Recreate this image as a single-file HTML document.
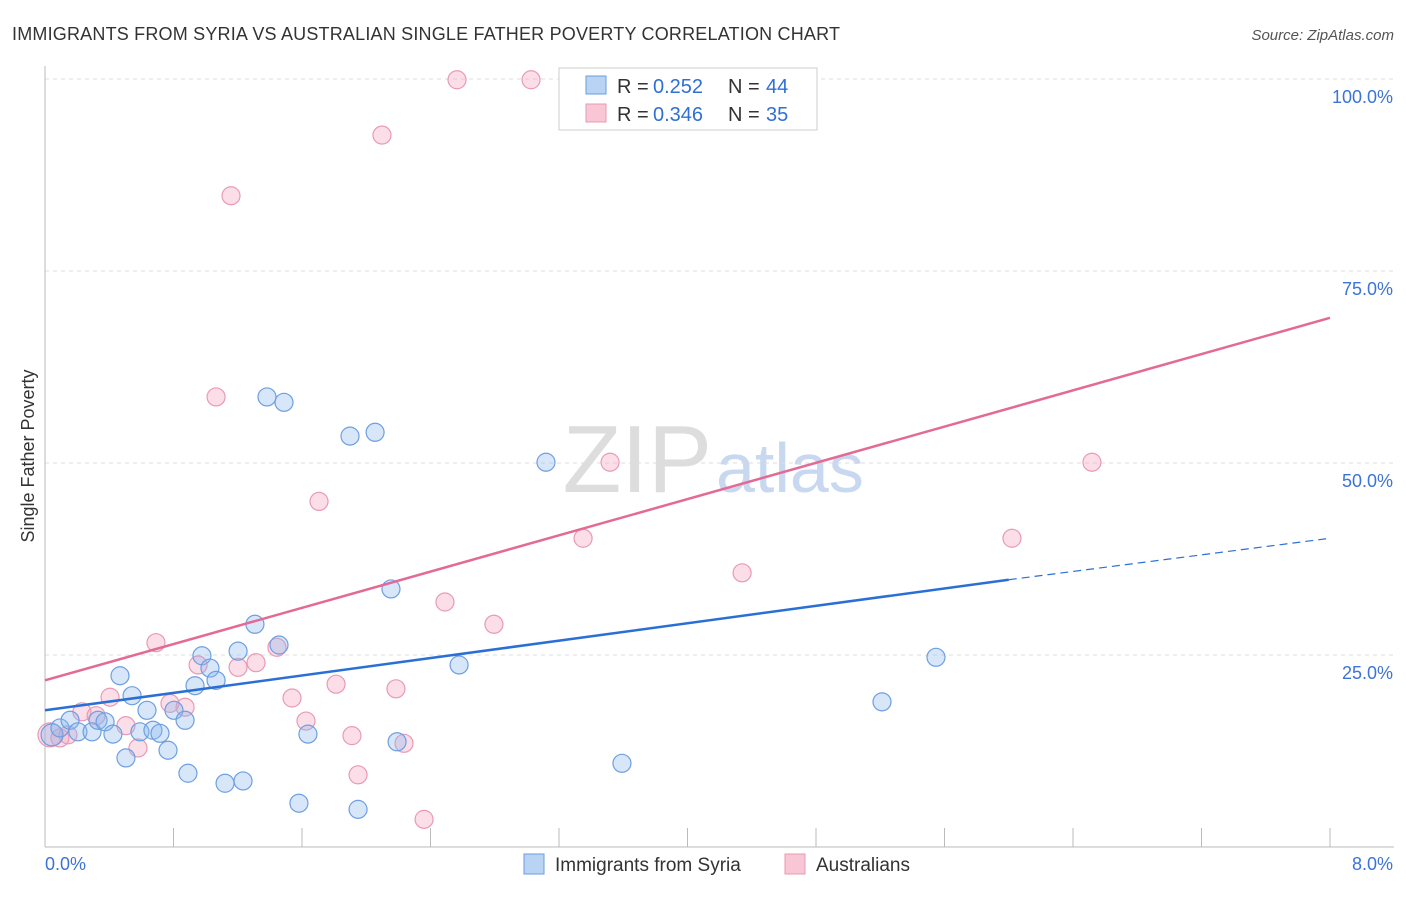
<!DOCTYPE html>
<html><head><meta charset="utf-8"><style>
body{margin:0;background:#fff;font-family:"Liberation Sans",sans-serif;}
svg text{font-family:"Liberation Sans",sans-serif;}
</style></head><body>
<svg id="c" width="1406" height="892" xmlns="http://www.w3.org/2000/svg">
<text x="12" y="40" font-size="18" fill="#333" textLength="828">IMMIGRANTS FROM SYRIA VS AUSTRALIAN SINGLE FATHER POVERTY CORRELATION CHART</text>
<text x="1394" y="40" font-size="15" fill="#555" font-style="italic" text-anchor="end">Source: ZipAtlas.com</text>
<text x="34" y="456" font-size="18" fill="#333" text-anchor="middle" transform="rotate(-90 34 456)">Single Father Poverty</text>
<text x="712" y="492" font-size="96" fill="#ddd" text-anchor="end" font-family="Liberation Serif">ZIP</text>
<text x="716" y="492" font-size="70" fill="#c8d8f0">atlas</text>
<g id="grid"></g><g id="marks"></g>
<g>
<rect x="559" y="68" width="258" height="62" fill="#fff" stroke="#ccc"/>
<rect x="586" y="76" width="20" height="18" fill="#b9d3f5" stroke="#6b9de0"/>
<rect x="586" y="104" width="20" height="18" fill="#f9c6d6" stroke="#e79ab3"/>
<text x="617" y="93" font-size="20" fill="#333">R =</text><text x="653" y="93" font-size="20" fill="#2f6fd6">0.252</text>
<text x="728" y="93" font-size="20" fill="#333">N =</text><text x="766" y="93" font-size="20" fill="#2f6fd6">44</text>
<text x="617" y="121" font-size="20" fill="#333">R =</text><text x="653" y="121" font-size="20" fill="#2f6fd6">0.346</text>
<text x="728" y="121" font-size="20" fill="#333">N =</text><text x="766" y="121" font-size="20" fill="#2f6fd6">35</text>
</g>
<g>
<rect x="524" y="854" width="20" height="20" fill="#b9d3f5" stroke="#6b9de0"/>
<text x="555" y="871" font-size="19" fill="#333">Immigrants from Syria</text>
<rect x="785" y="854" width="20" height="20" fill="#f9c6d6" stroke="#e79ab3"/>
<text x="816" y="871" font-size="19" fill="#333">Australians</text>
</g>
</svg>
<script>
const xTicks=[0,0.8,1.6,2.4,3.2,4.0,4.8,5.6,6.4,7.2,8.0];
const yTicks=[25,50,75,100];
const yTickLabels=["25.0%","50.0%","75.0%","100.0%"];
const xEndLabels=["0.0%","8.0%"];
const syriaX=[0.044,0.093,0.156,0.205,0.293,0.33,0.374,0.423,0.467,0.504,0.542,0.591,0.635,0.672,0.716,0.766,0.803,0.872,0.89,0.934,0.977,1.027,1.065,1.121,1.202,1.233,1.307,1.382,1.457,1.488,1.581,1.637,1.899,1.949,2.055,2.154,2.192,2.578,3.119,3.592,5.211,5.547];
const syriaY=[14.6,15.5,16.5,15.0,15.0,16.5,16.3,14.7,22.3,11.6,19.7,15.0,17.8,15.2,14.8,12.6,17.8,16.5,9.6,21.0,24.9,23.3,21.7,8.3,25.5,8.6,29.0,58.6,26.3,57.9,5.7,14.7,53.5,4.9,54.0,33.6,13.7,23.7,50.1,10.9,18.9,24.7];
const ausX=[0.031,0.093,0.143,0.23,0.318,0.405,0.504,0.579,0.691,0.778,0.872,0.953,1.065,1.158,1.202,1.314,1.444,1.538,1.625,1.706,1.812,1.911,1.949,2.098,2.185,2.235,2.36,2.49,2.565,2.795,3.026,3.35,3.518,4.34,6.02,6.518];
const ausY=[14.6,14.2,14.6,17.6,17.1,19.5,15.8,12.9,26.6,18.7,18.2,23.7,58.6,84.8,23.4,24.0,26.0,19.4,16.4,45.0,21.2,14.5,9.4,92.7,20.6,13.5,3.6,31.9,99.9,29.0,99.9,40.2,50.1,35.7,40.2,50.1];
const syriaTrend=[17.8,34.8,40.2];
const syriaTrendX=[0,6.0,8.0];
const ausTrend=[21.7,68.9];
const ausTrendX=[0,8.0];
const X=v=>45+v/8*1285, Y=v=>847-v/100*768;
const NS="http://www.w3.org/2000/svg";
function mk(t,a,p){const e=document.createElementNS(NS,t);for(const k in a)e.setAttribute(k,a[k]);p.appendChild(e);return e;}
const g=document.getElementById('grid'), m=document.getElementById('marks');
yTicks.forEach((t,i)=>{
 const l=mk('line',{x1:45,x2:1394,y1:Y(t),y2:Y(t),stroke:'#ddd','stroke-dasharray':'4,4'},g);
 
 
 const tx=mk('text',{x:1393,y:Y(t)+24,'font-size':18,fill:'#3b73d9','text-anchor':'end'},g);
 tx.textContent=yTickLabels[i];
 
 
});
const ax=mk('line',{x1:45,x2:1394,y1:847,y2:847,stroke:'#bbb'},g);


const ay=mk('line',{x1:45,x2:45,y1:66,y2:847,stroke:'#bbb'},g);


xTicks.forEach(t=>{
 const l=mk('line',{x1:X(t),x2:X(t),y1:828,y2:847,stroke:'#bbb'},g);
 
 
});
[[0,'start',45],[1,'end',1393]].forEach(([i,a,x])=>{
 const tx=mk('text',{x:x,y:870,'font-size':18,fill:'#3b73d9','text-anchor':a},g);
 tx.textContent=xEndLabels[i];
 
 
});
ausX.forEach((v,i)=>{
 const c=mk('circle',{cx:X(v),cy:Y(ausY[i]),r:i==0?12:9,fill:'rgba(244,160,188,0.35)',stroke:'#e99ab4','stroke-width':1.2},m);
 
 
});
syriaX.forEach((v,i)=>{
 const c=mk('circle',{cx:X(v),cy:Y(syriaY[i]),r:i==0?11:9,fill:'rgba(140,182,238,0.35)',stroke:'#6d9fe2','stroke-width':1.2},m);
 
 
});
const pl=mk('line',{x1:X(ausTrendX[0]),y1:Y(ausTrend[0]),x2:X(ausTrendX[1]),y2:Y(ausTrend[1]),stroke:'#e46a95','stroke-width':2.5},m);


const bl=mk('line',{x1:X(syriaTrendX[0]),y1:Y(syriaTrend[0]),x2:X(syriaTrendX[1]),y2:Y(syriaTrend[1]),stroke:'#2a6fd6','stroke-width':2.5},m);


const bd=mk('line',{x1:X(syriaTrendX[1]),y1:Y(syriaTrend[1]),x2:X(syriaTrendX[2]),y2:Y(syriaTrend[2]),stroke:'#2a6fd6','stroke-width':1.2,'stroke-dasharray':'8,5'},m);


</script>
</body></html>
